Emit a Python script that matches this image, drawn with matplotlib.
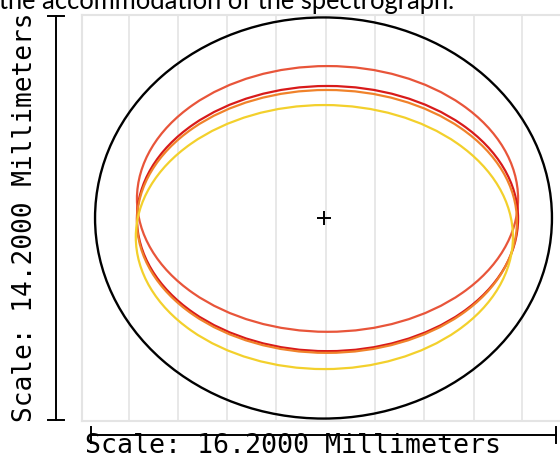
import matplotlib
matplotlib.use("Agg")
import matplotlib.pyplot as plt
from matplotlib.patches import Ellipse
import numpy as np

# ---- data (millimeters) ----
scale_x_mm = 16.2
scale_y_mm = 14.2
aperture_semi = (7.96, 7.05)          # surface aperture (x, y semi-axes)
fp_names = ["outer", "red", "orange", "yellow"]
fp_cx = [0.14, 0.14, 0.12, 0.03]
fp_cy = [0.67, -0.02, -0.12, -0.67]
fp_ax = [6.64, 6.64, 6.62, 6.57]
fp_ay = [4.67, 4.66, 4.62, 4.64]
fp_colors = ["#e8553a", "#d81a1a", "#f0822a", "#f3d02c"]
grid_x = [-6.78, -5.07, -3.36, -1.64, 0.09, 1.79, 3.50, 5.24, 6.92]

W, H = 560, 460
fig = plt.figure(figsize=(W / 100, H / 100), dpi=100)

# axes in pixel layout
L, R, T, B = 82, 565, 16, 422
ax = fig.add_axes([L / W, 1 - B / H, (R - L) / W, (B - T) / H])
cxp, cyp = 323.5, 219
pxmm_x, pxmm_y = 28.7, 28.45
ax.set_xlim((L - cxp) / pxmm_x, (R - cxp) / pxmm_x)
ax.set_ylim(-(B - cyp) / pxmm_y, (cyp - T) / pxmm_y)

for s in ["left", "top", "bottom"]:
    ax.spines[s].set_color("#e4e4e4")
    ax.spines[s].set_linewidth(1.5)
ax.spines["right"].set_visible(False)
ax.set_xticks([])
ax.set_yticks([])
for gx in grid_x:
    ax.axvline(gx, color="#e6e6e6", lw=1.3, zorder=0)

# aperture
ax.add_patch(Ellipse((0, 0), 2 * aperture_semi[0], 2 * aperture_semi[1],
                     fill=False, ec="black", lw=1.7, zorder=2))
# footprints
for cx, cy, a, b, c in zip(fp_cx, fp_cy, fp_ax, fp_ay, fp_colors):
    ax.add_patch(Ellipse((cx, cy), 2 * a, 2 * b, fill=False, ec=c, lw=1.6, zorder=3))
ax.plot([0], [0], marker="+", color="black", ms=10, mew=1.4, zorder=4)

# scale bars
xl, xr = -scale_x_mm / 2, scale_x_mm / 2
yb, yt = -scale_y_mm / 2, scale_y_mm / 2
ybar = -(436 - cyp) / pxmm_y
capy = 8 / pxmm_y
ax.plot([xl, xr], [ybar, ybar], color="black", lw=1.4, clip_on=False)
ax.plot([xl, xl], [ybar - capy, ybar + capy], color="black", lw=1.4, clip_on=False)
ax.plot([xr, xr], [ybar - capy, ybar + capy], color="black", lw=1.4, clip_on=False)
xbar = (56 - cxp) / pxmm_x
capx = 8 / pxmm_x
ax.plot([xbar, xbar], [yb, yt], color="black", lw=1.4, clip_on=False)
ax.plot([xbar - capx, xbar + capx], [yb, yb], color="black", lw=1.4, clip_on=False)
ax.plot([xbar - capx, xbar + capx], [yt, yt], color="black", lw=1.4, clip_on=False)

mono = "DejaVu Sans Mono"
fig.text(85 / W, 1 - 459 / H, f"Scale: {scale_x_mm:.4f} Millimeters",
         fontsize=19.2, family=mono, ha="left", va="bottom")
fig.text(25 / W, 1 - 217 / H, f"Scale: {scale_y_mm:.4f} Millimeters",
         fontsize=18.8, family=mono, rotation=90, ha="center", va="center")

fig.text(-1 / W, 1 - 9 / H, "the accommodation of the spectrograph.",
         fontsize=18.4, family=["Lato", "DejaVu Sans"], ha="left", va="baseline")

fig.savefig("out.png", dpi=100)
